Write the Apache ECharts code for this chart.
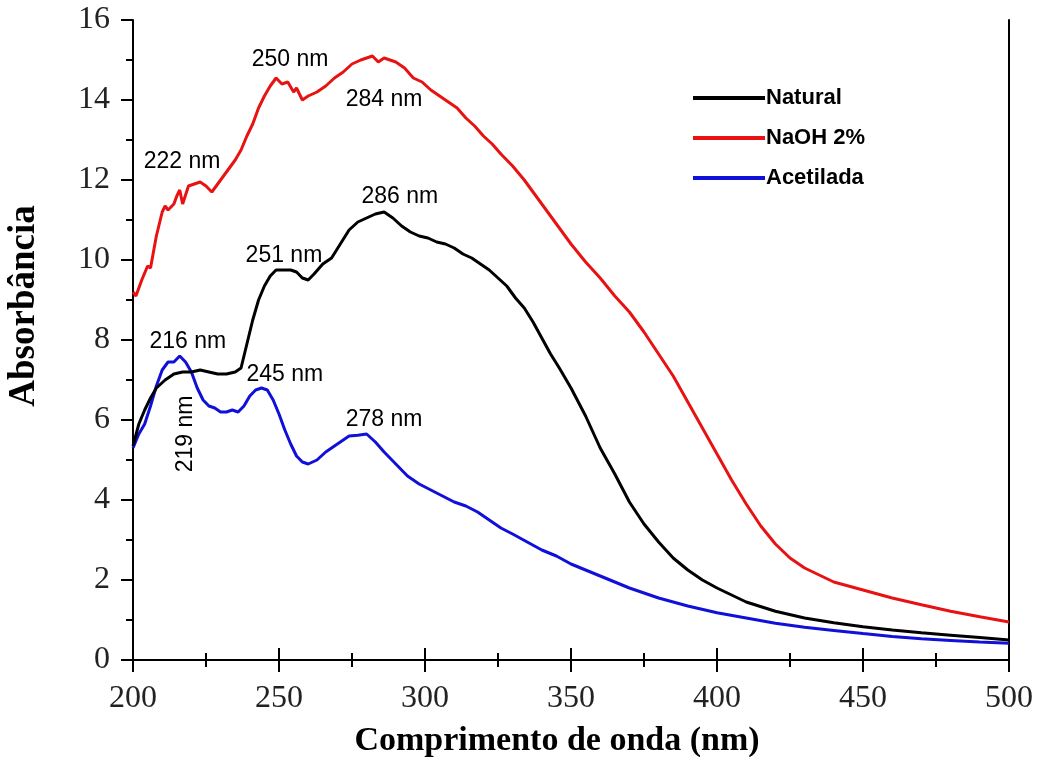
<!DOCTYPE html>
<html>
<head>
<meta charset="utf-8">
<script src="https://cdn.jsdelivr.net/npm/echarts@6/dist/echarts.min.js"></script>
<style>
html, body { margin: 0; padding: 0; background: #fff; }
#chart { width: 1043px; height: 757px; }
</style>
</head>
<body>
<div id="chart"></div>
<script>
'use strict';

// comprimento de onda (nm) e absorbancia
var naturalX = [200,202,204,206,208,211,214,217,220,223,226,229,232,235,237,239,241,243,245,247,249,251,254,256,258,260,262,265,268,271,274,277,280,283,286,289,292,295,298,301,304,307,310,313,316,319,322,325,328,331,334,337,340,343,346,350,355,360,365,370,375,380,385,390,395,400,410,420,430,440,450,460,470,480,490,500];
var naturalY = [5.35,5.9,6.25,6.55,6.8,7.0,7.15,7.2,7.2,7.25,7.2,7.15,7.15,7.2,7.3,7.9,8.5,9.0,9.35,9.6,9.75,9.75,9.75,9.7,9.55,9.5,9.65,9.9,10.05,10.4,10.75,10.95,11.05,11.15,11.2,11.05,10.85,10.7,10.6,10.55,10.45,10.4,10.3,10.15,10.05,9.9,9.75,9.55,9.35,9.05,8.8,8.45,8.05,7.65,7.3,6.8,6.1,5.3,4.65,3.95,3.4,2.95,2.55,2.25,2.0,1.8,1.45,1.22,1.05,0.93,0.83,0.75,0.68,0.62,0.56,0.5];

var naohX = [200,201,203,205,206,208,210,211,212,214,215,216,217,219,221,223,225,227,229,232,235,237,239,241,243,245,247,249,251,253,255,256,258,260,263,266,269,272,275,278,280,282,284,286,288,290,293,296,299,302,305,308,311,314,317,320,323,326,330,334,338,342,346,350,355,360,365,370,375,380,385,390,395,400,405,410,415,420,425,430,440,450,460,470,480,490,500];
var naohY = [9.2,9.1,9.5,9.85,9.8,10.6,11.2,11.35,11.25,11.4,11.6,11.75,11.4,11.85,11.9,11.95,11.85,11.7,11.9,12.2,12.5,12.75,13.1,13.4,13.8,14.1,14.35,14.55,14.4,14.45,14.2,14.3,14.0,14.1,14.2,14.35,14.55,14.7,14.9,15.0,15.05,15.1,14.95,15.05,15.0,14.95,14.8,14.55,14.45,14.25,14.1,13.95,13.8,13.55,13.35,13.1,12.9,12.65,12.35,12.0,11.6,11.2,10.8,10.4,9.95,9.55,9.1,8.7,8.2,7.65,7.1,6.45,5.8,5.15,4.5,3.9,3.35,2.9,2.55,2.3,1.95,1.75,1.55,1.38,1.22,1.08,0.95];

var acetX = [200,202,204,206,208,210,212,214,216,218,220,222,224,226,228,230,232,234,236,238,240,242,244,246,248,250,252,254,256,258,260,263,266,270,274,277,280,283,286,290,294,298,302,306,310,314,318,322,326,330,335,340,345,350,355,360,370,380,390,400,410,420,430,440,450,460,470,480,490,500];
var acetY = [5.3,5.65,5.9,6.35,6.85,7.25,7.45,7.45,7.6,7.45,7.2,6.8,6.5,6.35,6.3,6.2,6.2,6.25,6.2,6.35,6.6,6.75,6.8,6.75,6.5,6.15,5.75,5.4,5.1,4.95,4.9,5.0,5.2,5.4,5.6,5.62,5.65,5.45,5.2,4.9,4.6,4.4,4.25,4.1,3.95,3.85,3.7,3.5,3.3,3.15,2.95,2.75,2.6,2.4,2.25,2.1,1.8,1.55,1.35,1.18,1.05,0.92,0.82,0.74,0.66,0.59,0.53,0.49,0.45,0.42];

var seriesNames = ['Natural', 'NaOH 2%', 'Acetilada'];
var seriesColors = ['#000000', '#e81212', '#1010d8'];

// rotulos dos picos: texto, x (nm), y (absorbancia), rotacao
var peakText = ['222 nm','250 nm','284 nm','286 nm','251 nm','216 nm','245 nm','278 nm','219 nm'];
var peakX = [216.8, 253.8, 286, 291.4, 251.7, 218.8, 252, 286, 218.2];
var peakY = [12.45, 15.0, 14.0, 11.58, 10.1, 7.95, 7.13, 6.0, 5.65];
var peakRot = [0, 0, 0, 0, 0, 0, 0, 0, 90];

function pares(xs, ys) {
    var arr = [];
    for (var i = 0; i < xs.length; i++) {
        arr.push([xs[i], ys[i]]);
    }
    return arr;
}

var curvas = [pares(naturalX, naturalY), pares(naohX, naohY), pares(acetX, acetY)];
var series = [];
for (var i = 0; i < seriesNames.length; i++) {
    series.push({
        name: seriesNames[i],
        type: 'line',
        showSymbol: false,
        symbol: 'none',
        color: seriesColors[i],
        lineStyle: { width: 3, color: seriesColors[i] },
        data: curvas[i],
        z: 3 - i
    });
}

var rotulos = [];
for (var k = 0; k < peakText.length; k++) {
    rotulos.push({
        value: [peakX[k], peakY[k]],
        label: { formatter: peakText[k], rotate: peakRot[k] }
    });
}
series.push({
    type: 'scatter',
    symbolSize: 0,
    silent: true,
    itemStyle: { opacity: 1, color: '#000' },
    label: {
        show: true,
        position: 'inside',
        color: '#000',
        opacity: 1,
        fontFamily: 'Liberation Sans',
        fontSize: 23
    },
    data: rotulos,
    z: 10
});

var serif = 'Liberation Serif';
var tickStyle = { show: true, inside: false, length: 12, lineStyle: { color: '#000', width: 2 } };
var minorStyle = { show: true, splitNumber: 2, length: 7, lineStyle: { color: '#000', width: 2 } };

var myChart = echarts.init(document.getElementById('chart'));
var option = {
    backgroundColor: '#fff',
    animation: false,
    grid: { left: 133, right: 34, top: 20, bottom: 97, containLabel: false, outerBoundsMode: 'none' },
    legend: {
        orient: 'vertical',
        left: 688,
        top: 82,
        itemGap: 18,
        itemWidth: 72,
        itemHeight: 4,
        icon: 'rect',
        data: seriesNames,
        textStyle: { fontFamily: 'Liberation Sans', fontWeight: 'bold', fontSize: 22, color: '#000', padding: [0, 0, 0, -4] }
    },
    xAxis: [{
        type: 'value',
        position: 'bottom',
        min: 200,
        max: 500,
        interval: 50,
        name: 'Comprimento de onda (nm)',
        nameLocation: 'middle',
        nameGap: 64,
        nameTextStyle: { fontFamily: serif, fontWeight: 'bold', fontSize: 34, color: '#000', padding: [0, 28, 0, 0] },
        axisLine: { show: true, lineStyle: { color: '#000', width: 2 } },
        axisTick: tickStyle,
        minorTick: minorStyle,
        splitLine: { show: false },
        axisLabel: { fontFamily: serif, fontSize: 32, color: '#222', margin: 23 }
    }, {
        type: 'value',
        position: 'top',
        min: 200,
        max: 500,
        interval: 50,
        axisLine: { show: true, lineStyle: { color: '#000', width: 2 } },
        axisTick: tickStyle,
        minorTick: minorStyle,
        splitLine: { show: false },
        axisLabel: { show: false }
    }],
    yAxis: [{
        type: 'value',
        position: 'left',
        min: 0,
        max: 16,
        interval: 2,
        name: 'Absorbância',
        nameLocation: 'middle',
        nameGap: 90,
        nameTextStyle: { fontFamily: serif, fontWeight: 'bold', fontSize: 37, color: '#000', padding: [0, 0, 0, 68] },
        axisLine: { show: true, lineStyle: { color: '#000', width: 2 } },
        axisTick: tickStyle,
        minorTick: minorStyle,
        splitLine: { show: false },
        axisLabel: { fontFamily: serif, fontSize: 32, color: '#222', margin: 23 }
    }, {
        type: 'value',
        position: 'right',
        min: 0,
        max: 16,
        interval: 2,
        axisLine: { show: true, lineStyle: { color: '#000', width: 2 } },
        axisTick: { show: false },
        splitLine: { show: false },
        axisLabel: { show: false }
    }],
    series: series
};
myChart.setOption(option);
</script>
</body>
</html>
